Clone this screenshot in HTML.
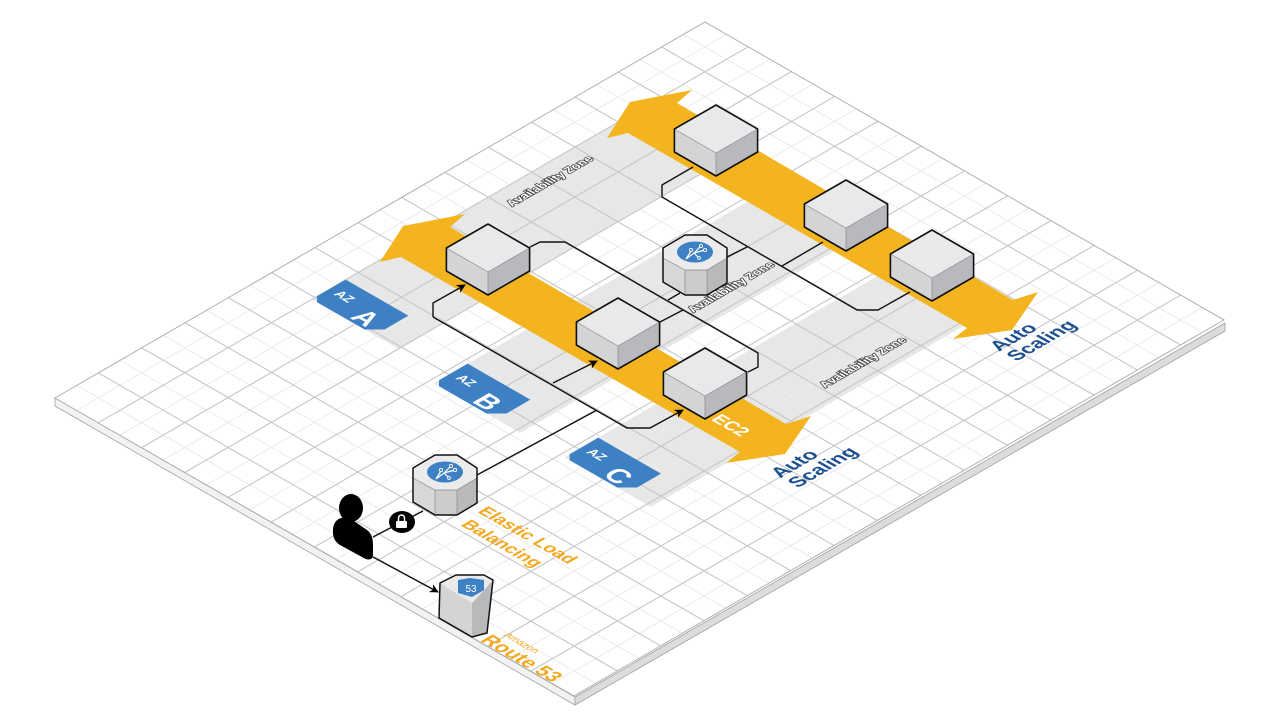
<!DOCTYPE html>
<html><head><meta charset="utf-8"><style>
html,body{margin:0;padding:0;background:#fff;}
svg{display:block;font-family:"Liberation Sans",sans-serif;}
</style></head><body>
<svg width="1280" height="720" viewBox="0 0 1280 720" xmlns="http://www.w3.org/2000/svg">
<defs>
<marker id="ah" viewBox="0 0 10 10" refX="9" refY="5" markerWidth="9" markerHeight="9" markerUnits="userSpaceOnUse" orient="auto">
<path d="M0,0 L10,5 L0,10 L3,5 Z" fill="#000"/>
</marker>
<g id="box">
<polygon points="-41.6,-23 0,-47 41.6,-23 0,1" fill="#e8e9eb"/>
<polygon points="-41.6,-23 0,1 0,24 -41.6,0" fill="#d3d4d6"/>
<polygon points="0,1 41.6,-23 41.6,0 0,24" fill="#b8b9bc"/>
<path d="M-41.6,-23 L0,1 L41.6,-23 M0,1 L0,24" stroke="#8a8a8c" stroke-width="0.7" fill="none"/>
<polygon points="-41.6,-23 0,-47 41.6,-23 41.6,0 0,24 -41.6,0" fill="none" stroke="#111" stroke-width="1.6" stroke-linejoin="round"/>
</g>
<g id="elb">
<polygon points="413,478 435,490 435,515 413,502" fill="#d6d7d9"/>
<polygon points="435,490 457,490 457,515 435,515" fill="#cbccce"/>
<polygon points="457,490 477,478 477,503 457,515" fill="#b8b9bb"/>
<polygon points="413,468 435,455 457,455 477,468 477,478 457,490 435,490 413,478" fill="#ebebed"/>
<path d="M413,478 L435,490 L457,490 L477,478 M435,490 L435,515 M457,490 L457,515" stroke="#888" stroke-width="0.7" fill="none"/>
<polygon points="413,468 435,455 457,455 477,468 477,503 457,515 435,515 413,502" fill="none" stroke="#111" stroke-width="1.5" stroke-linejoin="round"/>
<ellipse cx="445" cy="472" rx="18" ry="10.5" fill="#3d80c3"/>
<path d="M436,479 L444,473 L451,466 M444,473 L455,470 M444,473 L449,478 M436,479 L441,471" stroke="#fff" stroke-width="1.2" fill="none"/>
<circle cx="451" cy="466" r="1.6" fill="#3d80c3" stroke="#fff" stroke-width="0.9"/>
<circle cx="455" cy="470" r="1.6" fill="#3d80c3" stroke="#fff" stroke-width="0.9"/>
<circle cx="441" cy="470" r="1.6" fill="#3d80c3" stroke="#fff" stroke-width="0.9"/>
<circle cx="449" cy="478" r="1.4" fill="#3d80c3" stroke="#fff" stroke-width="0.9"/>
</g>
</defs>

<!-- platform sides -->
<polygon points="55,398 575,697 575,705 55,406" fill="#f2f2f2" stroke="#a0a0a0" stroke-width="0.8"/>
<polygon points="575,697 1225,323 1225,331 575,705" fill="#dcdcdc" stroke="#a0a0a0" stroke-width="0.8"/>

<g transform="matrix(43.33 -25.07 43.25 24.83 55 398)">
<rect x="0" y="0" width="15" height="12" fill="#fff"/>
<!-- bands -->
<rect x="4.93" y="1.0" width="7.5" height="2.0" fill="#e7e7e7"/>
<rect x="4.65" y="4.1" width="7.7" height="2.0" fill="#e7e7e7"/>
<rect x="4.67" y="7.1" width="7.6" height="2.0" fill="#e7e7e7"/>
<!-- minor grid -->
<path vector-effect="non-scaling-stroke" stroke="#ebebeb" stroke-width="1" fill="none" d="
M0.5,0V12 M1.5,0V12 M2.5,0V12 M3.5,0V12 M4.5,0V12 M5.5,0V12 M6.5,0V12 M7.5,0V12 M8.5,0V12 M9.5,0V12 M10.5,0V12 M11.5,0V12 M12.5,0V12 M13.5,0V12 M14.5,0V12
M0,0.5H15 M0,1.5H15 M0,2.5H15 M0,3.5H15 M0,4.5H15 M0,5.5H15 M0,6.5H15 M0,7.5H15 M0,8.5H15 M0,9.5H15 M0,10.5H15 M0,11.5H15"/>
<!-- major grid -->
<path vector-effect="non-scaling-stroke" stroke="#c6c6c8" stroke-width="1.1" fill="none" d="
M1,0V12 M2,0V12 M3,0V12 M4,0V12 M5,0V12 M6,0V12 M7,0V12 M8,0V12 M9,0V12 M10,0V12 M11,0V12 M12,0V12 M13,0V12 M14,0V12
M0,1H15 M0,2H15 M0,3H15 M0,4H15 M0,5H15 M0,6H15 M0,7H15 M0,8H15 M0,9H15 M0,10H15 M0,11H15"/>
<rect x="0" y="0" width="15" height="12" fill="none" stroke="#b0b0b0" stroke-width="1" vector-effect="non-scaling-stroke"/>
</g>

<!-- orange arrows -->
<polygon points="607,138 630,102 692,90 677,103 1013,300 1038,292 1012,330 953,339 967,328 628,133" fill="#f4b41f"/>
<polygon points="380,262 403,226 465,214 450,227 786,424 811,416 785,454 726,463 740,452 401,257" fill="#f4b41f"/>

<!-- AZ tags + floor text -->
<g transform="matrix(43.33 -25.07 43.25 24.83 55 398)">
<polygon points="5.05,1.0 5.71,1.0 5.71,2.45 5.16,2.45 4.93,2.22 4.93,1.12" fill="#3d80c3"/>
<polygon points="4.77,4.1 5.43,4.1 5.43,5.55 4.88,5.55 4.65,5.32 4.65,4.22" fill="#3d80c3"/>
<polygon points="4.79,7.1 5.45,7.1 5.45,8.55 4.90,8.55 4.67,8.32 4.67,7.22" fill="#3d80c3"/>
<g font-size="0.24" fill="#fff" stroke="#444" stroke-width="0.035" paint-order="stroke" font-weight="bold">
<text x="9.08" y="1.47">Availability Zone</text>
<text x="9.04" y="5.7">Availability Zone</text>
<text x="9.05" y="8.74">Availability Zone</text>
</g>
<g font-size="0.4" font-weight="bold" fill="#1d4f91">
<text x="6.73" y="10.03">Auto</text>
<text x="6.73" y="10.43">Scaling</text>
<text x="11.78" y="10.03">Auto</text>
<text x="11.78" y="10.43">Scaling</text>
</g>
</g>
<g transform="matrix(43.25 24.83 -43.33 25.07 55 398)">
<g fill="#fff" font-weight="bold">
<text x="1.15" y="-5.27" font-size="0.26">AZ</text>
<text x="2.0" y="-4.99" font-size="0.55" text-anchor="middle">A</text>
<text x="4.25" y="-4.99" font-size="0.26">AZ</text>
<text x="5.1" y="-4.71" font-size="0.55" text-anchor="middle">B</text>
<text x="7.25" y="-5.01" font-size="0.26">AZ</text>
<text x="8.1" y="-4.73" font-size="0.55" text-anchor="middle">C</text>
</g>
<text x="8.39" y="-7.1" font-size="0.36" font-weight="bold" fill="#fff" text-anchor="middle">EC2</text>
<g fill="#f5a81f" font-weight="bold">
<text x="7.18" y="-2.57" font-size="0.36">Elastic Load</text>
<text x="7.25" y="-2.11" font-size="0.36">Balancing</text>
<text x="10.64" y="-0.02" font-size="0.4" text-anchor="middle">Route 53</text>
</g>
<text x="10.33" y="-0.39" font-size="0.2" fill="#f5a81f" text-anchor="middle">Amazon</text>
</g>

<!-- connectors -->
<g stroke="#111" stroke-width="1.4" fill="none" stroke-linejoin="round">
<path d="M433,317 L433,303 L465,285" marker-end="url(#ah)"/>
<path d="M433,317 L627,428 L650,428 L683,410" marker-end="url(#ah)"/>
<path d="M477,475 L597,410"/>
<path d="M553,383 L597,361" marker-end="url(#ah)"/>
<path d="M530,247 L540,242 L565,242 L758,353 L758,367 L748,372"/>
<path d="M693,167 L662,185 L662,197 L857,310 L878,310 L910,292"/>
<path d="M725,258 L747,247"/>
<path d="M782,266 L823,242"/>
<path d="M660,322 L683,310"/>
<path d="M680,293 L668,300"/>
<path d="M373,537 L423,511"/>
<path d="M373,557 L438,592" marker-end="url(#ah)"/>
</g>

<!-- lock -->
<ellipse cx="402" cy="522" rx="13" ry="11" fill="#000"/>
<rect x="396" y="521" width="11" height="7" rx="1" fill="#fff"/>
<path d="M398.5,521 V518 A3,3 0 0 1 404.5,518 V521" stroke="#fff" stroke-width="1.5" fill="none"/>

<!-- person -->
<ellipse cx="351" cy="508" rx="12" ry="14" fill="#000"/>
<path d="M333,530 C333,519 343,515 351,519 L367,530 C372,534 373,539 373,545 L373,555 C373,560 368,561 362,557 L340,545 C335,542 333,537 333,533 Z" fill="#000"/>

<!-- ELBs -->
<use href="#elb"/>
<use href="#elb" transform="translate(250,-220)"/>

<!-- Route 53 -->
<polygon points="440,583 472,603 472,637 439,618" fill="#d3d4d6"/>
<polygon points="472,603 493,580 487,633 472,637" fill="#b8b9bb"/>
<polygon points="440,583 456,575 484,575 493,580 472,603" fill="#e9eaec"/>
<polygon points="440,583 456,575 484,575 493,580 487,633 472,637 439,618" fill="none" stroke="#111" stroke-width="1.5" stroke-linejoin="round"/>
<path d="M458,580 L470,578 L484,580 L484,590 L472,597 L458,593 Z" fill="#3d80c3"/>
<text x="471" y="592" font-size="10" fill="#fff" text-anchor="middle">53</text>

<!-- EC2 boxes -->
<use href="#box" x="488" y="271"/>
<use href="#box" x="618" y="345"/>
<use href="#box" x="705" y="395"/>
<use href="#box" x="716" y="152"/>
<use href="#box" x="846" y="227"/>
<use href="#box" x="932" y="277"/>
</svg>
</body></html>
